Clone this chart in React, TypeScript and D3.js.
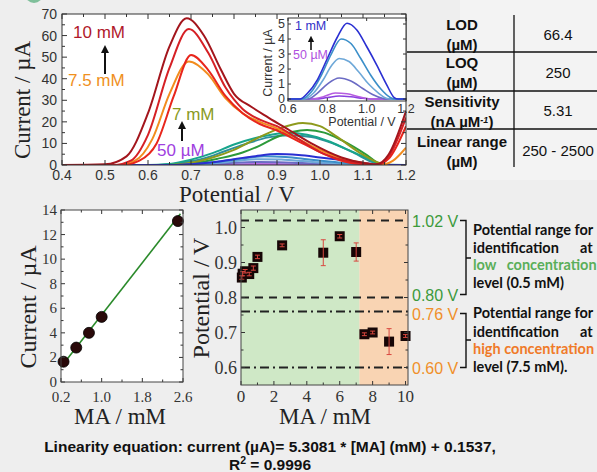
import React from "react";
import * as d3 from "d3";

type Pt = [number, number];

// ---------- Main DPV voltammograms (potential V, current µA) ----------
const dpv10mM: Pt[] = [[0.4,0],[0.5,0.3],[0.55,4],[0.6,24],[0.65,55],[0.69,68],[0.73,60],[0.77,44],[0.8,33],[0.84,27],[0.88,22],[0.93,16],[0.98,10],[1.05,3.5],[1.1,1],[1.13,0.3],[1.16,5],[1.2,25]];
const dpv9mM: Pt[] = [[0.4,0],[0.52,0],[0.56,2],[0.6,14],[0.65,45],[0.695,63],[0.74,52],[0.78,36],[0.82,26],[0.86,21],[0.9,18],[0.95,12],[1.0,6],[1.05,2.5],[1.1,0.5],[1.13,0],[1.16,4],[1.2,22]];
const dpv8mM: Pt[] = [[0.4,0],[0.54,0],[0.58,2],[0.62,10],[0.66,32],[0.7,51],[0.74,44],[0.78,32],[0.82,24],[0.86,19],[0.9,16],[0.95,11],[1.0,6],[1.05,2],[1.1,0.3],[1.13,0],[1.16,3],[1.2,18]];
const dpv75mM: Pt[] = [[0.4,0],[0.53,0],[0.57,2],[0.61,12],[0.65,33],[0.695,48],[0.74,42],[0.78,31],[0.82,24],[0.86,20],[0.9,17],[0.95,12],[1.0,7],[1.05,3],[1.1,1],[1.14,0],[1.17,2],[1.2,8]];
const dpv7mM: Pt[] = [[0.4,0],[0.65,0],[0.7,1],[0.75,3.5],[0.8,7],[0.85,12],[0.9,16.5],[0.96,19.5],[1.0,18],[1.04,13],[1.09,6],[1.14,0.8],[1.16,0],[1.2,0]];
const dpv5mM: Pt[] = [[0.4,0],[0.66,0],[0.71,0.8],[0.76,2.8],[0.82,5.8],[0.86,9],[0.9,13],[0.97,16.2],[1.01,15],[1.05,11.5],[1.11,4.5],[1.14,0.5],[1.16,0],[1.2,0]];
const dpv3mM: Pt[] = [[0.4,0],[0.6,0],[0.65,0.5],[0.7,2.5],[0.75,5.5],[0.8,9.5],[0.85,12.5],[0.9,14.5],[0.93,15],[0.97,14],[1.02,11],[1.06,7.5],[1.1,4],[1.13,1],[1.16,0],[1.2,0]];
const dpv2mM: Pt[] = [[0.4,0],[0.62,0],[0.68,1],[0.73,3],[0.78,6.5],[0.83,10],[0.88,12.8],[0.93,13.8],[0.98,13],[1.03,10],[1.08,5.5],[1.12,1.5],[1.14,0.3],[1.2,0]];

// ---------- Inset (50 µM – 1 mM) ----------
const inset1mM: Pt[] = [[0.4,0],[0.66,0],[0.7,0.4],[0.75,1.3],[0.8,2.7],[0.85,4.1],[0.9,5.05],[0.95,4.6],[1.0,3.5],[1.05,2.3],[1.1,1.0],[1.14,0.1],[1.16,0],[1.2,0]];
const inset075mM: Pt[] = [[0.4,0],[0.67,0],[0.72,0.5],[0.77,1.6],[0.82,3.0],[0.87,4.0],[0.92,3.7],[0.97,2.7],[1.02,1.6],[1.07,0.7],[1.12,0.1],[1.14,0],[1.2,0]];
const inset05mM: Pt[] = [[0.4,0],[0.68,0],[0.73,0.4],[0.78,1.3],[0.82,2.2],[0.86,2.7],[0.91,2.5],[0.96,1.8],[1.01,1.0],[1.06,0.4],[1.1,0.05],[1.12,0],[1.2,0]];
const inset025mM: Pt[] = [[0.4,0],[0.7,0],[0.75,0.4],[0.8,1.0],[0.86,1.4],[0.92,1.2],[0.98,0.7],[1.03,0.3],[1.08,0.05],[1.1,0],[1.2,0]];
const inset01mM: Pt[] = [[0.4,0],[0.72,0],[0.78,0.15],[0.84,0.4],[0.9,0.35],[0.96,0.15],[1.02,0],[1.2,0]];
const inset005mM: Pt[] = [[0.4,0],[0.74,0],[0.8,0.1],[0.86,0.2],[0.92,0.15],[0.98,0.05],[1.02,0],[1.2,0]];

const mainSeries = [
  { data: dpv2mM, color: "#2f8e9c" },
  { data: dpv3mM, color: "#18a58c" },
  { data: dpv5mM, color: "#2c9a3a" },
  { data: dpv7mM, color: "#8e9a1c" },
  { data: inset005mM, color: "#8a3fe0" },
  { data: inset01mM, color: "#b55ce0" },
  { data: inset025mM, color: "#6b6bc4" },
  { data: inset05mM, color: "#6ea8d8" },
  { data: inset075mM, color: "#3b8fc9" },
  { data: inset1mM, color: "#2a2fd2" },
  { data: dpv75mM, color: "#f28c1e" },
  { data: dpv8mM, color: "#e8261c" },
  { data: dpv9mM, color: "#d62025" },
  { data: dpv10mM, color: "#a3151c" },
];
const insetSeries = [
  { data: inset005mM, color: "#8a3fe0" },
  { data: inset01mM, color: "#b55ce0" },
  { data: inset025mM, color: "#6b6bc4" },
  { data: inset05mM, color: "#6ea8d8" },
  { data: inset075mM, color: "#3b8fc9" },
  { data: inset1mM, color: "#2a2fd2" },
];
const mainXTicks = [0.4, 0.5, 0.6, 0.7, 0.8, 0.9, 1.0, 1.1, 1.2];
const mainYTicks = [0, 10, 20, 30, 40, 50, 60, 70];
const insetXTicks = [0.6, 0.8, 1.0, 1.2];
const insetYTicks = [0, 1, 2, 3, 4, 5];

// ---------- Table ----------
const tableLabels = [["LOD", "(µM)"], ["LOQ", "(µM)"], ["Sensitivity", "(nA µM"], ["Linear range", "(µM)"]];
const tableValues = ["66.4", "250", "5.31", "250 - 2500"];

// ---------- Calibration ----------
const calConc = [0.25, 0.5, 0.75, 1.0, 2.5];
const calCurrent = [1.65, 2.8, 4.0, 5.3, 13.1];
const fitSlope = 5.3081;
const fitIntercept = 0.1537;
const calXTicks = [0.2, 1.0, 1.8, 2.6];
const calYTicks = [0, 2, 4, 6, 8, 10, 12, 14];

// ---------- Peak potential vs concentration ----------
const peakConc = [0.05, 0.1, 0.25, 0.5, 0.75, 1.0, 2.5, 5, 6, 7, 7.5, 8, 9, 10];
const peakPot = [0.857, 0.868, 0.875, 0.867, 0.884, 0.916, 0.949, 0.928, 0.975, 0.93, 0.695, 0.70, 0.674, 0.69];
const peakErr = [0.005, 0.006, 0.005, 0.005, 0.006, 0.005, 0.004, 0.037, 0.005, 0.026, 0.004, 0.004, 0.037, 0.004];
const lowRange = [0.80, 1.02];
const highRange = [0.60, 0.76];
const regionSplit = 7.2;
const peakXTicks = [0, 2, 4, 6, 8, 10];
const peakYTicks = [0.6, 0.7, 0.8, 0.9, 1.0];

const SANS = "'Liberation Sans', Arial, sans-serif";
const SERIF = "'Liberation Serif', 'Times New Roman', serif";
const LATO = "Lato, 'Liberation Sans', sans-serif";

function Ticks({ xs, ys, xMajor, yMajor, xMinor, yMinor, len = 5, mlen = 3, color = "#333" }: any) {
  const [l, r] = xs.range();
  const [b, t] = ys.range();
  const out: any[] = [];
  xMajor.forEach((v: number, i: number) => {
    const x = xs(v);
    out.push(<line key={"xb" + i} x1={x} x2={x} y1={b} y2={b - len} />);
    out.push(<line key={"xt" + i} x1={x} x2={x} y1={t} y2={t + len} />);
  });
  (xMinor || []).forEach((v: number, i: number) => {
    const x = xs(v);
    out.push(<line key={"xmb" + i} x1={x} x2={x} y1={b} y2={b - mlen} />);
    out.push(<line key={"xmt" + i} x1={x} x2={x} y1={t} y2={t + mlen} />);
  });
  yMajor.forEach((v: number, i: number) => {
    const y = ys(v);
    out.push(<line key={"yl" + i} x1={l} x2={l + len} y1={y} y2={y} />);
    out.push(<line key={"yr" + i} x1={r} x2={r - len} y1={y} y2={y} />);
  });
  (yMinor || []).forEach((v: number, i: number) => {
    const y = ys(v);
    out.push(<line key={"yml" + i} x1={l} x2={l + mlen} y1={y} y2={y} />);
    out.push(<line key={"ymr" + i} x1={r} x2={r - mlen} y1={y} y2={y} />);
  });
  return <g stroke={color} strokeWidth={1}>{out}</g>;
}

export default function App() {
  const mx = d3.scaleLinear().domain([0.4, 1.2]).range([62, 406]);
  const my = d3.scaleLinear().domain([0, 70]).range([165, 14]);
  const mainLine = d3.line<Pt>().x((d) => mx(d[0])).y((d) => my(d[1])).curve(d3.curveMonotoneX);

  const ix = d3.scaleLinear().domain([0.6, 1.2]).range([288, 406]);
  const iy = d3.scaleLinear().domain([-0.13, 5.4]).range([101, 18]);
  const insetLine = d3.line<Pt>().x((d) => ix(d[0])).y((d) => iy(d[1])).curve(d3.curveMonotoneX);

  const cx = d3.scaleLinear().domain([0.2, 2.6]).range([61, 183]);
  const cy = d3.scaleLinear().domain([0, 14]).range([382, 210]);

  const px = d3.scaleLinear().domain([0, 10.15]).range([241, 408]);
  const py = d3.scaleLinear().domain([0.55, 1.05]).range([385, 210]);

  const mainMinorX = d3.range(0.45, 1.2, 0.1);
  const mainMinorY = d3.range(5, 70, 10);

  const rowLines = [52, 91, 129];
  const rowLabelY = [[30, 50], [68, 88], [107, 127], [147, 167]];
  const rowValueY = [40, 78, 116, 156];

  return (
    <svg width={597} height={472} style={{ position: "absolute", left: 0, top: 0 }} xmlns="http://www.w3.org/2000/svg">
      <defs>
        <clipPath id="mainClip"><rect x={62} y={14} width={344} height={151} /></clipPath>
        <clipPath id="insetClip"><rect x={288} y={18} width={118} height={83} /></clipPath>
        <marker id="arrowHead" viewBox="0 0 10 10" refX="5" refY="5" markerWidth="4" markerHeight="5" orient="auto">
          <path d="M0,0 L10,5 L0,10 z" fill="#111" />
        </marker>
      </defs>
      <rect x={0} y={0} width={597} height={472} fill="#eeeeee" />
      <rect x={460} y={0} width={137} height={180} fill="#f3f3f3" />
      <circle cx={34} cy={-6} r={9} fill="#7fbf9a" />

      {/* ===== Main DPV chart ===== */}
      <rect x={62} y={14} width={344} height={151} fill="#ffffff" />
      <g clipPath="url(#mainClip)" fill="none" strokeWidth={2}>
        {mainSeries.map((s, i) => (
          <path key={i} d={mainLine(s.data) || ""} stroke={s.color} strokeLinejoin="round" />
        ))}
      </g>
      <Ticks xs={mx} ys={my} xMajor={mainXTicks} yMajor={mainYTicks} xMinor={mainMinorX} yMinor={mainMinorY} />
      <rect x={62} y={14} width={344} height={151} fill="none" stroke="#333" strokeWidth={1} />
      <g fontFamily={SANS} fontSize={14} fill="#333">
        {mainYTicks.map((v) => (
          <text key={v} x={57} y={my(v) + 5} textAnchor="end">{v}</text>
        ))}
        {mainXTicks.map((v) => (
          <text key={v} x={mx(v)} y={180} textAnchor="middle">{v.toFixed(1)}</text>
        ))}
      </g>
      <text transform="translate(30,100) rotate(-90)" textAnchor="middle" fontFamily={SERIF} fontSize={23} fill="#222">Current / µA</text>
      <text x={237} y={202} textAnchor="middle" fontFamily={SERIF} fontSize={23} fill="#222">Potential / V</text>

      <g fontFamily={SANS} fontSize={17}>
        <text x={73} y={38} fill="#b0182a">10 mM</text>
        <text x={68} y={86} fill="#f0901e">7.5 mM</text>
        <text x={172} y={120} fill="#8a9a1e">7 mM</text>
        <text x={157} y={156} fill="#a040e0">50 µM</text>
      </g>
      <line x1={105} y1={74} x2={105} y2={49} stroke="#111" strokeWidth={2} markerEnd="url(#arrowHead)" />
      <line x1={182} y1={141} x2={182} y2={125} stroke="#111" strokeWidth={2} markerEnd="url(#arrowHead)" />

      {/* ===== Inset ===== */}
      <rect x={288} y={18} width={118} height={83} fill="#ffffff" />
      <g clipPath="url(#insetClip)" fill="none" strokeWidth={1.6}>
        {insetSeries.map((s, i) => (
          <path key={i} d={insetLine(s.data) || ""} stroke={s.color} />
        ))}
      </g>
      <Ticks xs={ix} ys={iy} xMajor={insetXTicks} yMajor={insetYTicks} len={3} mlen={0} />
      <rect x={288} y={18} width={118} height={83} fill="none" stroke="#333" strokeWidth={1} />
      <g fontFamily={SANS} fontSize={12.5} fill="#333">
        {insetYTicks.map((v) => (
          <text key={v} x={285} y={iy(v) + 4} textAnchor="end">{v}</text>
        ))}
        {insetXTicks.map((v) => (
          <text key={v} x={ix(v)} y={113} textAnchor="middle">{v.toFixed(1)}</text>
        ))}
        <text x={362} y={126} textAnchor="middle">Potential / V</text>
        <text transform="translate(272,63) rotate(-90)" textAnchor="middle">Current / µA</text>
      </g>
      <g fontFamily={SANS} fontSize={12.5}>
        <text x={295} y={30} fill="#3030c8">1 mM</text>
        <text x={293} y={59} fill="#b050e0">50 µM</text>
      </g>
      <line x1={311} y1={50} x2={311} y2={39} stroke="#111" strokeWidth={1.6} markerEnd="url(#arrowHead)" />

      {/* ===== Table ===== */}
      <g stroke="#111" strokeWidth={1.3}>
        <line x1={514} x2={514} y1={15} y2={167} />
        {rowLines.map((y) => (
          <line key={y} x1={407} x2={597} y1={y} y2={y} />
        ))}
      </g>
      <g fontFamily={SANS} fontSize={15} fill="#111">
        {tableLabels.map((lab, i) => (
          <g key={i} fontWeight="bold" textAnchor="middle">
            <text x={462} y={rowLabelY[i][0]}>{lab[0]}</text>
            <text x={462} y={rowLabelY[i][1]}>
              {lab[1]}
              {i === 2 ? (
                <>
                  <tspan fontSize={9} fontStyle="italic" dy={-4}>-1</tspan>
                  <tspan dy={4}>)</tspan>
                </>
              ) : null}
            </text>
          </g>
        ))}
        {tableValues.map((v, i) => (
          <text key={v + i} x={558} y={rowValueY[i]} textAnchor="middle">{v}</text>
        ))}
      </g>

      {/* ===== Calibration plot ===== */}
      <rect x={61} y={210} width={122} height={172} fill="#ffffff" />
      <line x1={cx(0.2)} y1={cy(fitSlope * 0.2 + fitIntercept)} x2={cx(2.55)} y2={cy(fitSlope * 2.55 + fitIntercept)} stroke="#2a8a2a" strokeWidth={1.6} />
      {calConc.map((c, i) => (
        <circle key={i} cx={cx(c)} cy={cy(calCurrent[i])} r={5.5} fill="#2a0a0a" stroke="#000" strokeWidth={0.8} />
      ))}
      <Ticks xs={cx} ys={cy} xMajor={calXTicks} yMajor={calYTicks} xMinor={d3.range(0.6, 2.6, 0.8)} yMinor={d3.range(1, 14, 2)} len={4} mlen={2.5} />
      <rect x={61} y={210} width={122} height={172} fill="none" stroke="#444" strokeWidth={1} />
      <g fontFamily={SERIF} fontSize={15} fill="#333">
        {calYTicks.map((v) => (
          <text key={v} x={57} y={cy(v) + 5} textAnchor="end">{v}</text>
        ))}
        {calXTicks.map((v) => (
          <text key={v} x={cx(v)} y={402} textAnchor="middle">{v.toFixed(1)}</text>
        ))}
      </g>
      <text transform="translate(36,307) rotate(-90)" textAnchor="middle" fontFamily={SERIF} fontSize={24} fill="#222">Current / µA</text>
      <text x={120} y={424} textAnchor="middle" fontFamily={SERIF} fontSize={23} fill="#222">MA / mM</text>

      {/* ===== Peak potential plot ===== */}
      <rect x={241} y={210} width={px(regionSplit) - 241} height={175} fill="#cfe8c6" />
      <rect x={px(regionSplit)} y={210} width={408 - px(regionSplit)} height={175} fill="#f9d4b3" />
      <g stroke="#222" strokeWidth={2} fill="none">
        {lowRange.map((v) => (
          <line key={"l" + v} x1={241} x2={408} y1={py(v)} y2={py(v)} strokeDasharray="8,6" />
        ))}
        {highRange.map((v) => (
          <line key={"h" + v} x1={241} x2={408} y1={py(v)} y2={py(v)} strokeDasharray="9,4,2,4" />
        ))}
      </g>
      {peakConc.map((c, i) => (
        <rect key={i} x={px(c) - 5} y={py(peakPot[i]) - 5} width={10} height={10} fill="#160606" />
      ))}
      <g stroke="#d9473f" strokeWidth={1}>
        {peakConc.map((c, i) => (
          <g key={i}>
            <line x1={px(c)} x2={px(c)} y1={py(peakPot[i] - peakErr[i])} y2={py(peakPot[i] + peakErr[i])} />
            <line x1={px(c) - 2.5} x2={px(c) + 2.5} y1={py(peakPot[i] - peakErr[i])} y2={py(peakPot[i] - peakErr[i])} />
            <line x1={px(c) - 2.5} x2={px(c) + 2.5} y1={py(peakPot[i] + peakErr[i])} y2={py(peakPot[i] + peakErr[i])} />
          </g>
        ))}
      </g>
      <Ticks xs={px} ys={py} xMajor={peakXTicks} yMajor={peakYTicks} xMinor={[1, 3, 5, 7, 9]} yMinor={[0.65, 0.75, 0.85, 0.95]} len={4} mlen={2.5} />
      <rect x={241} y={210} width={167} height={175} fill="none" stroke="#444" strokeWidth={1} />
      <g fontFamily={SERIF} fill="#333">
        {peakYTicks.map((v) => (
          <text key={v} x={237} y={py(v) + 6} textAnchor="end" fontSize={18}>{v.toFixed(1)}</text>
        ))}
        {peakXTicks.map((v) => (
          <text key={v} x={px(v)} y={402} textAnchor="middle" fontSize={17}>{v}</text>
        ))}
      </g>
      <text transform="translate(209,298) rotate(-90)" textAnchor="middle" fontFamily={SERIF} fontSize={24} fill="#222">Potential / V</text>
      <text x={325} y={424} textAnchor="middle" fontFamily={SERIF} fontSize={23} fill="#222">MA / mM</text>

      {/* right-side range labels */}
      <g fontFamily={SANS} fontSize={16}>
        <text x={412} y={py(lowRange[1]) + 6} fill="#3c9a3c">{lowRange[1].toFixed(2)} V</text>
        <text x={412} y={py(lowRange[0]) + 3} fill="#3c9a3c">{lowRange[0].toFixed(2)} V</text>
        <text x={412} y={py(highRange[1]) + 8} fill="#f0902a">{highRange[1].toFixed(2)} V</text>
        <text x={412} y={py(highRange[0]) + 6} fill="#f0902a">{highRange[0].toFixed(2)} V</text>
      </g>
      <g stroke="#111" strokeWidth={1.4} fill="none">
        <path d={`M460,${py(lowRange[1])} H466 V${py(lowRange[0]) - 3} H460 M466,258 H471`} />
        <path d={`M460,${py(highRange[1]) + 2} H466 V${py(highRange[0])} H460 M466,340 H471`} />
      </g>
      <g fontFamily={LATO} fontWeight="bold" fontSize={14.5} fill="#111">
        <text x={473} y={235}>Potential range for</text>
        <text x={473} y={253}>identification</text>
        <text x={580} y={253}>at</text>
        <text x={473} y={270} fill="#5aae5a">low&#160;&#160;&#160;concentration</text>
        <text x={473} y={288}>level (0.5 mM)</text>
        <text x={473} y={318}>Potential range for</text>
        <text x={473} y={337}>identification</text>
        <text x={580} y={337}>at</text>
        <text x={473} y={354} fill="#f07a28">high concentration</text>
        <text x={473} y={372}>level (7.5 mM).</text>
      </g>

      {/* ===== Equation ===== */}
      <g fontFamily={SANS} fontWeight="bold" fontSize={15.5} fill="#111" textAnchor="middle">
        <text x={270} y={452}>Linearity equation: current (µA)= 5.3081 * [MA] (mM) + 0.1537,</text>
        <text x={270} y={470}>
          R<tspan fontSize={10.5} dy={-6}>2</tspan><tspan dy={6}> = 0.9996</tspan>
        </text>
      </g>
    </svg>
  );
}
